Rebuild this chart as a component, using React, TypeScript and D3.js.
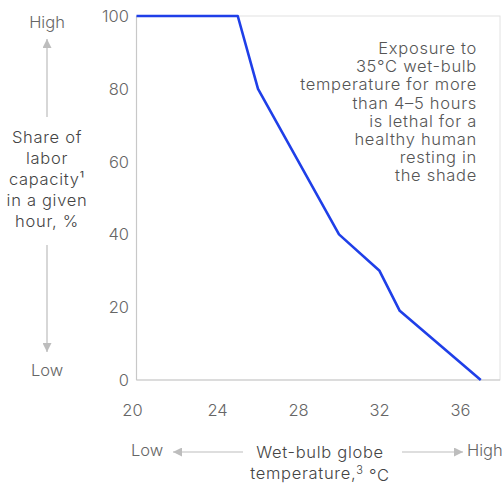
import React from "react";
import * as d3 from "d3";

const temps = [20, 25, 26, 30, 32, 33, 37];
const capacity = [100, 100, 80, 40, 30, 19, 0];
const xTicks = [20, 24, 28, 32, 36];
const yTicks = [0, 20, 40, 60, 80, 100];
const yLabelLines = ["Share of", "labor", "capacity¹", "in a given", "hour, %"];
const noteLines = [
  "Exposure to",
  "35°C wet-bulb",
  "temperature for more",
  "than 4–5 hours",
  "is lethal for a",
  "healthy human",
  "resting in",
  "the shade",
];

const W = 504;
const H = 485;
const FONT = "Inter, 'Open Sans', sans-serif";

export default function App() {
  const x = d3.scaleLinear().domain([20, 38]).range([136.5, 501]);
  const y = d3.scaleLinear().domain([0, 100]).range([380, 16]);
  const pts = temps.map((t, i) => [t, capacity[i]] as [number, number]);
  const line = d3
    .line<[number, number]>()
    .x((d) => x(d[0]))
    .y((d) => y(d[1]));

  const gray = "#666";
  const arrow = "#bdbdbd";
  const FS = 16.5;
  const LS = 0.7;

  return (
    <svg
      width={W}
      height={H}
      style={{ position: "absolute", left: 0, top: 0, background: "#fff" }}
      fontFamily={FONT}
      fontWeight={300}
    >
      <defs>
        <marker id="ah" viewBox="0 0 10 10" refX="10" refY="5" markerWidth="9" markerHeight="9" orient="auto" markerUnits="userSpaceOnUse">
          <path d="M0,0 L10,5 L0,10 z" fill={arrow} />
        </marker>
      </defs>
      {/* frame */}
      <rect x={x(20)} y={y(100)} width={x(38) - x(20) - 1} height={y(0) - y(100)} fill="none" stroke="#e2e2e2" strokeWidth={1} />
      <line x1={x(20)} x2={x(20)} y1={y(100)} y2={y(0)} stroke="#c8c8c8" strokeWidth={1.2} />
      <line x1={x(20)} x2={x(38) - 1} y1={y(0)} y2={y(0)} stroke="#c8c8c8" strokeWidth={1.2} />

      {/* y ticks */}
      {yTicks.map((t) => (
        <text key={t} x={129} y={y(t)} dy="0.36em" textAnchor="end" fontSize={16.5} fill={gray}>
          {t}
        </text>
      ))}
      {/* x ticks */}
      {xTicks.map((t) => (
        <text key={t} x={x(t) - (t === 20 ? 4 : 0)} y={410} dy="0.36em" textAnchor="middle" fontSize={16.5} fill={gray}>
          {t}
        </text>
      ))}

      {/* data line */}
      <path d={line(pts) || ""} fill="none" stroke="#1f3fe8" strokeWidth={2.6} strokeLinejoin="round" />

      {/* annotation */}
      {noteLines.map((l, i) => (
        <text key={i} x={477} y={48 + i * 18.2} dy="0.36em" textAnchor="end" fontSize={FS} letterSpacing={LS} fill="#555">
          {l}
        </text>
      ))}

      {/* y axis label */}
      <text x={47} y={22} dy="0.36em" textAnchor="middle" fontSize={16.5} fill={gray}>High</text>
      <line x1={47} x2={47} y1={117} y2={39} stroke={arrow} strokeWidth={1.2} markerEnd="url(#ah)" />
      {yLabelLines.map((l, i) => (
        <text key={i} x={47} y={137 + i * 21} dy="0.36em" textAnchor="middle" fontSize={FS} letterSpacing={LS} fill="#444">
          {l}
        </text>
      ))}
      <line x1={47} x2={47} y1={245} y2={352} stroke={arrow} strokeWidth={1.2} markerEnd="url(#ah)" />
      <text x={47} y={370} dy="0.36em" textAnchor="middle" fontSize={16.5} fill={gray}>Low</text>

      {/* x axis label */}
      <text x={131} y={450} dy="0.36em" textAnchor="start" fontSize={16.5} fill={gray}>Low</text>
      <line x1={243} x2={173} y1={452} y2={452} stroke={arrow} strokeWidth={1.2} markerEnd="url(#ah)" />
      <text x={320} y={452} dy="0.36em" textAnchor="middle" fontSize={FS} letterSpacing={LS} fill="#444">Wet-bulb globe</text>
      <text x={320} y={473} dy="0.36em" textAnchor="middle" fontSize={FS} letterSpacing={LS} fill="#444">
        temperature,<tspan dy="-0.45em" fontSize={11}>3</tspan>
        <tspan dy="0.45em"> °C</tspan>
      </text>
      <line x1={402} x2={463} y1={452} y2={452} stroke={arrow} strokeWidth={1.2} markerEnd="url(#ah)" />
      <text x={467} y={450} dy="0.36em" textAnchor="start" fontSize={16.5} fill={gray}>High</text>
    </svg>
  );
}
